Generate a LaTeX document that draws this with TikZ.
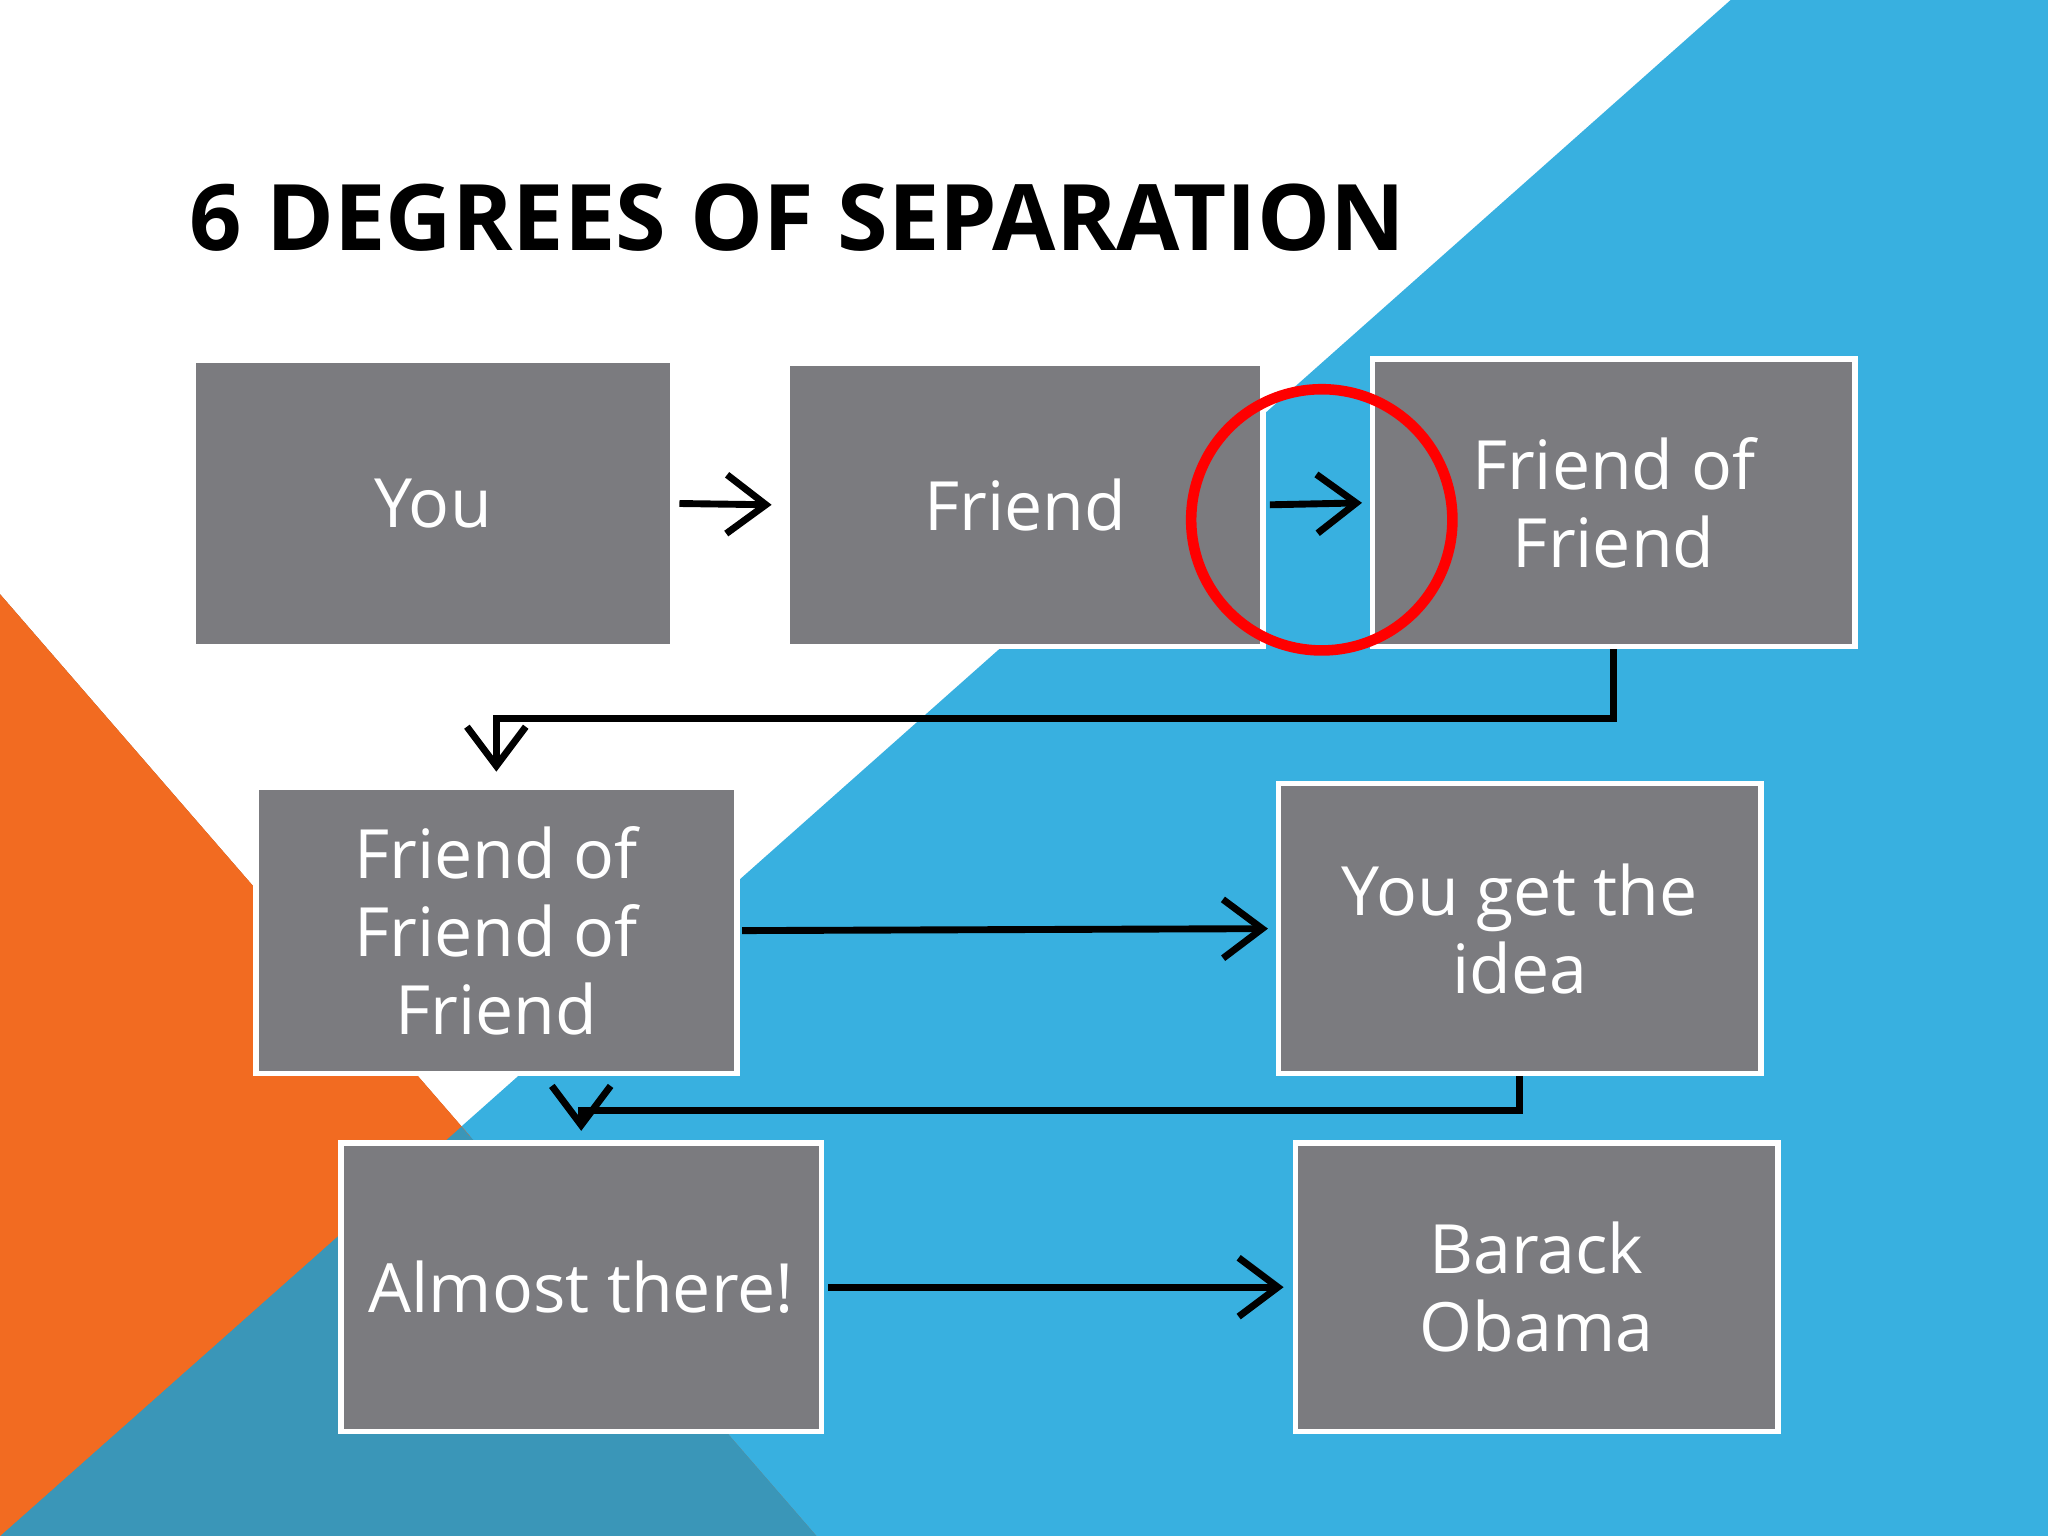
\documentclass[tikz,border=0pt]{standalone}
\usepackage{fontspec}
\setmainfont{Open Sans}
\usetikzlibrary{arrows.meta}
\definecolor{bl}{HTML}{38B0E0}
\definecolor{org}{HTML}{F26B21}
\definecolor{teal}{HTML}{3A96B8}
\definecolor{gbox}{HTML}{7B7B7F}
\begin{document}
\begin{tikzpicture}[x=0.01cm,y=-0.01cm,
  box/.style={draw=white,line width=1.2pt,fill=gbox,text=white,inner sep=0pt,align=center,font=\fontsize{14.8}{17}\selectfont},
  arr/.style={line width=1.5pt,-{Straight Barb[length=3mm,width=4.5mm,line width=1.5pt]}}]
\useasboundingbox (0,0) rectangle (1568,1176);
\fill[white] (0,0) rectangle (1568,1176);
\fill[bl] (1325,0) -- (1568,0) -- (1568,1176) -- (0,1176) -- cycle;
\fill[org] (0,455) -- (625,1176) -- (0,1176) -- cycle;
\fill[teal] (0,1176) -- (625,1176) -- (0,455) -- cycle;
\fill[org] (0,455) -- (360,870) -- (0,1176) -- cycle;
\clip (0,0) rectangle (1568,1176);
% fix teal only below blue line
\begin{scope}
\clip (1325,0) -- (0,1176) -- (1568,1176) -- cycle;
\fill[teal] (0,455) -- (625,1176) -- (0,1176) -- cycle;
\end{scope}
\begin{scope}
\clip (1325,0) -- (0,1176) -- (0,0) -- cycle;
\fill[org] (0,455) -- (625,1176) -- (0,1176) -- cycle;
\end{scope}
\node[anchor=base west,font=\fontsize{20}{24}\selectfont\bfseries] (title) at (133,192) {6 DEGREES OF SEPARATION};
\node[box,draw=none,minimum width=363\pgflinewidth*0+3.63cm,minimum height=2.15cm] (you) at (331.5,385.5) {You};
\node[box,minimum width=3.64cm,minimum height=2.17cm] (fr) at (785,386.5) {Friend};
\node[box,minimum width=3.69cm,minimum height=2.2cm] (fof) at (1235.5,385) {Friend of\\Friend};
\node[box,minimum width=3.68cm,minimum height=2.19cm] (fofof) at (380,712.5) {Friend of\\Friend of\\Friend};
\node[box,minimum width=3.69cm,minimum height=2.22cm] (ygi) at (1163.5,711) {You get the\\idea};
\node[box,minimum width=3.68cm,minimum height=2.21cm] (alm) at (445,985.5) {Almost there!};
\node[box,minimum width=3.69cm,minimum height=2.21cm] (ob) at (1176.5,985.5) {Barack\\Obama};
\draw[arr] ([xshift=0.05cm]you.east) -- ([xshift=-0.1cm]fr.west);
\draw[arr] ([xshift=0.03cm]fr.east) -- ([xshift=-0.06cm]fof.west);
\draw[arr] (fof.south) -- ++(0,53) -| ([yshift=0.1cm]fofof.north);
\draw[arr] ([xshift=0.02cm]fofof.east) -- ([xshift=-0.06cm]ygi.west);
\draw[arr] (ygi.south) -- ++(0,26) -| ([yshift=0.07cm]alm.north);
\draw[arr] ([xshift=0.03cm]alm.east) -- ([xshift=-0.07cm]ob.west);
\draw[red,line width=2.3pt] (1012,398) circle[radius=100];
\end{tikzpicture}
\end{document}
